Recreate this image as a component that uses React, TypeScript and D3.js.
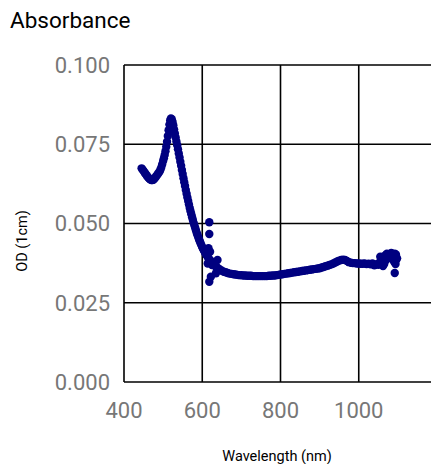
import * as d3 from 'd3';

// main absorbance curve (nm, OD)
const wavelength = [
  445, 447.5, 450, 452.5, 455, 457.5, 460, 462.5, 465, 467.5, 470, 472.5, 475, 477.5,
  480, 482.5, 485, 487.5, 490, 492.5, 495, 497.5,
  500, 502, 504, 506, 508, 510, 512, 514, 516, 518, 520, 522, 524, 526, 528,
  530, 532, 534, 536, 538, 540, 542, 544, 546, 548, 550, 552, 554, 556, 558,
  560, 562, 564, 566, 568, 570, 572, 574, 576, 578, 580, 582, 584, 586, 588,
  590, 592, 594, 596, 598, 600,
  602.5, 605, 607.5, 610, 612.5, 615, 617.5, 620, 622.5, 625, 627.5, 630, 632.5, 635, 637.5, 640,
  645, 650, 655, 660, 665, 670, 675,
  680, 685, 690, 695, 700, 705, 710, 715, 720, 725, 730, 735, 740, 745, 750,
  755, 760, 765, 770, 775, 780, 785, 790, 795, 800, 805, 810, 815, 820, 825,
  830, 835, 840, 845, 850, 855, 860, 865, 870, 875, 880, 885, 890, 895, 900,
  905, 910, 915, 920, 925, 930, 935, 940, 945, 950, 955, 960, 965, 970, 975,
  980, 985, 990, 995, 1000, 1005, 1010, 1015, 1020, 1025, 1030, 1035, 1040,
  1045, 1050, 1055, 1060, 1065, 1070, 1075, 1080, 1085, 1090, 1095, 1098,
];
const od = [
  0.0674, 0.0670, 0.0666, 0.0661, 0.0657, 0.0652, 0.0648, 0.0644, 0.0641, 0.0639, 0.0637, 0.0637, 0.0638, 0.0641,
  0.0645, 0.0649, 0.0654, 0.0658, 0.0662, 0.0668, 0.0676, 0.0686,
  0.0697, 0.0706, 0.0716, 0.0728, 0.0742, 0.0758, 0.0776, 0.0794, 0.0812, 0.0825, 0.0831, 0.0829, 0.0821, 0.0810, 0.0797,
  0.0784, 0.0771, 0.0759, 0.0747, 0.0734, 0.0721, 0.0708, 0.0695, 0.0682, 0.0669, 0.0656, 0.0643, 0.0630, 0.0618, 0.0606,
  0.0594, 0.0582, 0.0571, 0.0560, 0.0549, 0.0539, 0.0529, 0.0520, 0.0511, 0.0502, 0.0494, 0.0486, 0.0478, 0.0470, 0.0463,
  0.0456, 0.0449, 0.0443, 0.0437, 0.0431, 0.0425,
  0.0419, 0.0413, 0.0407, 0.0402, 0.0397, 0.0392, 0.0388, 0.0384, 0.0380, 0.0377, 0.0373, 0.0370, 0.0367, 0.0364, 0.0361, 0.0359,
  0.0355, 0.0351, 0.0348, 0.0346, 0.0344, 0.0342, 0.0341,
  0.0340, 0.0339, 0.0338, 0.0337, 0.0337, 0.0336, 0.0336, 0.0335, 0.0335, 0.0335, 0.0334, 0.0334, 0.0334, 0.0334, 0.0334,
  0.0334, 0.0334, 0.0334, 0.0335, 0.0335, 0.0336, 0.0336, 0.0337, 0.0338, 0.0339, 0.0340, 0.0341, 0.0342, 0.0343, 0.0344,
  0.0345, 0.0346, 0.0347, 0.0348, 0.0349, 0.0350, 0.0351, 0.0352, 0.0353, 0.0354, 0.0355, 0.0356, 0.0357, 0.0358, 0.0359,
  0.0361, 0.0363, 0.0365, 0.0367, 0.0369, 0.0371, 0.0374, 0.0377, 0.0380, 0.0383, 0.0385, 0.0386, 0.0385, 0.0382, 0.0378,
  0.0376, 0.0375, 0.0375, 0.0374, 0.0374, 0.0373, 0.0373, 0.0374, 0.0372, 0.0373, 0.0371, 0.0374, 0.0368,
  0.0372, 0.0370, 0.0380, 0.0376, 0.0372, 0.0385, 0.0395, 0.0400, 0.0405, 0.0400, 0.0398, 0.0390,
];

// stray readings around the lamp switch and at the far end
const strayWavelength = [618, 618, 616, 620, 614, 639, 622, 618, 635, 625,
  1055, 1062, 1068, 1072, 1078, 1083, 1088, 1092, 1095, 1090, 1094, 1096, 1092];
const strayOd = [0.0504, 0.0467, 0.0422, 0.0411, 0.0374, 0.0385, 0.0332, 0.0316, 0.0343, 0.0369,
  0.0395, 0.0366, 0.0400, 0.0405, 0.0392, 0.0407, 0.0403, 0.0405, 0.0402, 0.0380, 0.0372, 0.0386, 0.0344];

const xTicks = [400, 600, 800, 1000, 1200];
const yTicks = [0, 0.025, 0.05, 0.075, 0.1];

const W = 431;
const H = 464;
const font = 'Roboto, "Noto Sans", sans-serif';

export default function App() {
  const x = d3.scaleLinear().domain([400, 1200]).range([124, 437]);
  const y = d3.scaleLinear().domain([0, 0.1]).range([382, 65]);

  const points = wavelength.map((w, i) => ({ w, v: od[i] }))
    .concat(strayWavelength.map((w, i) => ({ w, v: strayOd[i] })));

  return (
    <svg width={W} height={H} style={{ position: 'absolute', left: 0, top: 0, background: '#fff' }}>
      <rect width={W} height={H} fill="#fff" />
      <text x={10} y={28} fontFamily={font} fontSize={22.5} fill="#000">Absorbance</text>

      {/* grid */}
      <g stroke="#000" strokeWidth={1.6}>
        {xTicks.map(t => (
          <line key={'gx' + t} x1={x(t)} x2={x(t)} y1={y(0)} y2={y(0.1)} />
        ))}
        {yTicks.map(t => (
          <line key={'gy' + t} x1={x(400)} x2={x(1200)} y1={y(t)} y2={y(t)} />
        ))}
      </g>

      {/* tick labels */}
      <g fontFamily={font} fontSize={22} fill="#777">
        {yTicks.map(t => (
          <text key={'ly' + t} x={110} y={y(t)} dy="0.36em" textAnchor="end">{d3.format('.3f')(t)}</text>
        ))}
        {xTicks.slice(0, 4).map(t => (
          <text key={'lx' + t} x={x(t)} y={418} textAnchor="middle">{t}</text>
        ))}
      </g>

      <text x={277} y={461} textAnchor="middle" fontFamily={font} fontSize={14.5} fill="#000">Wavelength (nm)</text>
      <text transform="translate(27,241) rotate(-90)" textAnchor="middle" fontFamily={font} fontSize={14.5} fill="#000">OD (1cm)</text>

      <g fill="#000080">
        {points.map((p, i) => (
          <circle key={i} cx={x(p.w)} cy={y(p.v)} r={4.2} />
        ))}
      </g>
    </svg>
  );
}
